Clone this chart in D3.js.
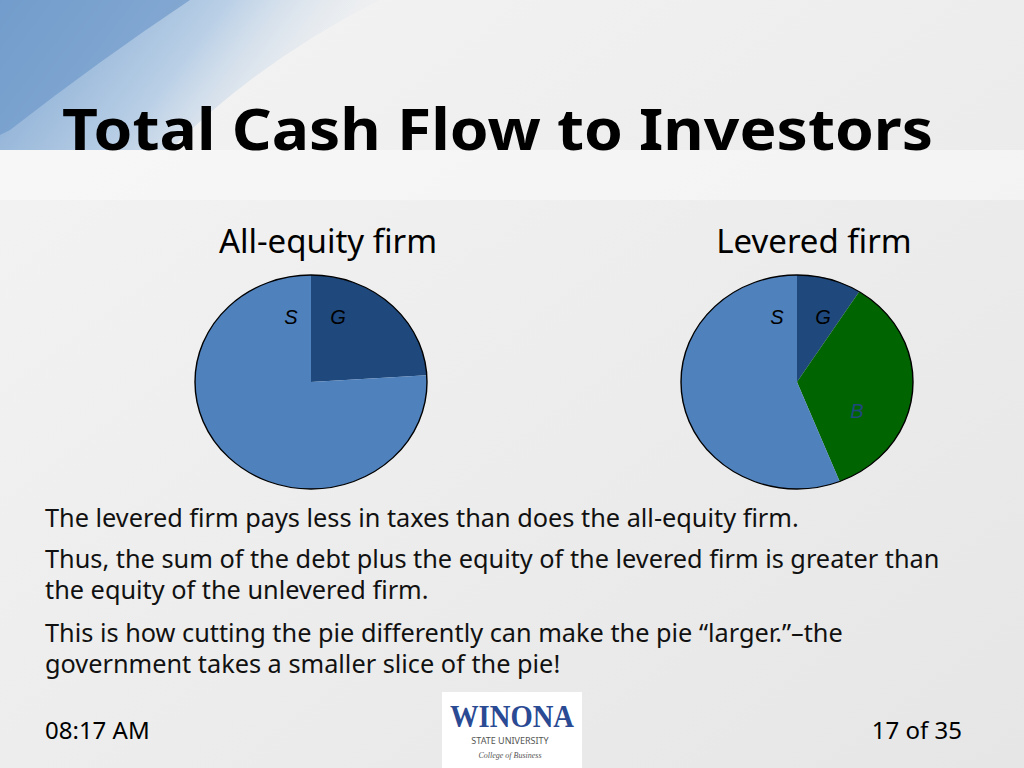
<!DOCTYPE html>
<html><head><meta charset="utf-8">
<script src="https://cdn.jsdelivr.net/npm/d3@7"></script>
<style>body{margin:0;overflow:hidden}svg{display:block;font-family:"Noto Sans",sans-serif}</style>
</head><body><svg id="c" width="1024" height="768"></svg>
<script>
const slicesLeft = ["S","G"];
const valuesLeft = [76, 24];
const slicesRight = ["S","G","B"];
const valuesRight = [56, 9, 35];
const pieTitles = ["All-equity firm","Levered firm"];
const bodyLines = [
 ["The levered firm pays less in taxes than does the all-equity firm."],
 ["Thus, the sum of the debt plus the equity of the levered firm is greater than","the equity of the unlevered firm."],
 ["This is how cutting the pie differently can make the pie \u201clarger.\u201d\u2013the","government takes a smaller slice of the pie!"]
];
const colors = {S:"#4f81bd", G:"#1f497d", B:"#006400"};

const svg = d3.select("#c");
const defs = svg.append("defs");
const bg = defs.append("linearGradient").attr("id","bg").attr("x1",0).attr("y1",0).attr("x2",1).attr("y2",1);
bg.append("stop").attr("offset",0).attr("stop-color","#f4f4f4");
bg.append("stop").attr("offset",1).attr("stop-color","#e6e6e6");
svg.append("rect").attr("width",1024).attr("height",768).attr("fill","url(#bg)");
const sw = defs.append("linearGradient").attr("id","sw").attr("x1",0).attr("y1",0).attr("x2",1).attr("y2",0.3);
sw.append("stop").attr("offset",0).attr("stop-color","#7aa2cf");
sw.append("stop").attr("offset",0.55).attr("stop-color","#b9cfe6");
sw.append("stop").attr("offset",1).attr("stop-color","#eceef1").attr("stop-opacity",0);
svg.append("path").attr("d","M0,0 L380,0 Q260,60 170,150 L0,150 Z").attr("fill","url(#sw)");
svg.append("path").attr("d","M0,0 L190,0 Q100,60 10,130 L0,135 Z").attr("fill","#6f9acb").attr("opacity",0.7);
svg.append("rect").attr("y",150).attr("width",1024).attr("height",50).attr("fill","#fbfbfb").attr("opacity",0.5);

svg.append("text").attr("x",62).attr("y",150).attr("font-size",58).attr("font-weight","bold")
 .attr("textLength",871).attr("lengthAdjust","spacingAndGlyphs").text("Total Cash Flow to Investors");

const centers = [311, 797];
pieTitles.forEach((t,i)=>svg.append("text").attr("x",centers[i]+17).attr("y",253).attr("text-anchor","middle")
 .attr("font-size",33).text(t));

const arc = d3.arc().innerRadius(0).outerRadius(107);
function drawPie(cx, names, vals){
  const order = ["G","B","S"].filter(n=>names.includes(n));
  const ordered = order.map(n=>vals[names.indexOf(n)]);
  const p = d3.pie().sort(null)(ordered);
  const g = svg.append("g").attr("transform",`translate(${cx},382) scale(${116/107},1)`);
  g.selectAll("path").data(p).join("path").attr("d",arc).attr("fill",(d,i)=>colors[order[i]]);
  g.append("circle").attr("r",107).attr("fill","none").attr("stroke","#000").attr("stroke-width",1.3);
}
drawPie(centers[0], slicesLeft, valuesLeft);
drawPie(centers[1], slicesRight, valuesRight);
const lab = (x,y,t,c)=>svg.append("text").attr("x",x).attr("y",y).attr("font-size",20).attr("font-style","italic")
 .attr("font-family","Liberation Sans, Arial").attr("text-anchor","middle").attr("fill",c).text(t);
lab(291,324,"S","#000");lab(338,324,"G","#000");
lab(777,324,"S","#000");lab(823,324,"G","#000");lab(857,418,"B","#1f497d");

const tops = [527, 568, 642];
bodyLines.forEach((para,pi)=>para.forEach((l,li)=>svg.append("text").attr("x",45).attr("y",tops[pi]+li*31)
 .attr("font-size",25.3).attr("fill","#111").text(l)));

svg.append("text").attr("x",45).attr("y",739).attr("font-size",24).text("08:17 AM");
svg.append("text").attr("x",962).attr("y",739).attr("font-size",24).attr("text-anchor","end").text("17 of 35");

svg.append("rect").attr("x",442).attr("y",692).attr("width",140).attr("height",76).attr("fill","#fff");
svg.append("text").attr("x",512).attr("y",727).attr("text-anchor","middle").attr("font-family","Liberation Serif, serif")
 .attr("font-weight","bold").attr("font-size",32).attr("fill","#2a4a94").attr("textLength",124).attr("lengthAdjust","spacingAndGlyphs").text("WINONA");
svg.append("text").attr("x",510).attr("y",744).attr("text-anchor","middle").attr("font-size",9).attr("fill","#555").text("STATE UNIVERSITY");
svg.append("text").attr("x",510).attr("y",758).attr("text-anchor","middle").attr("font-size",8).attr("font-style","italic")
 .attr("font-family","Liberation Serif, serif").attr("fill","#555").text("College of Business");
</script></body></html>
